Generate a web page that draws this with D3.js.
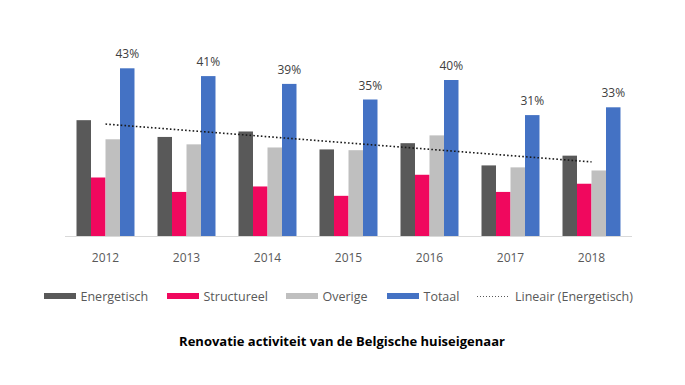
<!DOCTYPE html>
<html lang="nl">
<head>
<meta charset="utf-8">
<title>Renovatie activiteit</title>
<script src="https://d3js.org/d3.v7.min.js"></script>
<style>
  body { margin: 0; background: #fff; }
  text { font-family: "Open Sans", "Noto Sans", sans-serif; }
</style>
</head>
<body>
<div id="chart"></div>
<script>
// data (percentages)
var years       = ["2012", "2013", "2014", "2015", "2016", "2017", "2018"];
var series      = ["Energetisch", "Structureel", "Overige", "Totaal"];
var energetisch = [29.7, 25.4, 26.8, 22.2, 23.8, 18.1, 20.6];
var structureel = [15.0, 11.3, 12.7, 10.3, 15.7, 11.3, 13.4];
var overige     = [24.8, 23.5, 22.7, 22.0, 25.8, 17.6, 16.8];
var totaal      = [43, 41, 39, 35, 40, 31, 33];
var trendYears  = ["2012", "2018"];
var trendVals   = [28.7, 19.0];   // Lineair (Energetisch)
var colors      = ["#595959", "#F0085E", "#BFBFBF", "#4472C4"];

var width = 685, height = 385;
var svg = d3.select("#chart").append("svg")
  .attr("width", width).attr("height", height);

var x = d3.scaleBand().domain(years).range([65, 632])
  .paddingInner(0.284).paddingOuter(0.142);
var xs = d3.scaleBand().domain(series).range([0, x.bandwidth()]);
var y = d3.scaleLinear().domain([0, 50]).range([236, 41]);

var values = [energetisch, structureel, overige, totaal];
var rows = years.map(function (yr, i) {
  return { year: yr, vals: series.map(function (s, j) { return { key: s, v: values[j][i], c: colors[j] }; }) };
});

// axis line
svg.append("line")
  .attr("x1", 65).attr("x2", 632).attr("y1", y(0) + 0.5).attr("y2", y(0) + 0.5)
  .attr("stroke", "#d9d9d9").attr("stroke-width", 1);

var g = svg.selectAll("g.year").data(rows).enter().append("g")
  .attr("class", "year")
  .attr("transform", function (d) { return "translate(" + x(d.year) + ",0)"; });

g.selectAll("rect").data(function (d) { return d.vals; }).enter().append("rect")
  .attr("x", function (d) { return xs(d.key); })
  .attr("width", xs.bandwidth())
  .attr("y", function (d) { return y(d.v); })
  .attr("height", function (d) { return y(0) - y(d.v); })
  .attr("fill", function (d) { return d.c; });

// percentage labels above Totaal
g.append("text")
  .attr("x", xs("Totaal") + xs.bandwidth() / 2)
  .attr("y", function (d) { return y(d.vals[3].v) - 10; })
  .attr("text-anchor", "middle")
  .attr("font-size", 12)
  .attr("fill", "#404040")
  .text(function (d) { return d.vals[3].v + "%"; });

// year labels
svg.selectAll("text.yr").data(years).enter().append("text")
  .attr("class", "yr")
  .attr("x", function (d) { return x(d) + x.bandwidth() / 2; })
  .attr("y", 262)
  .attr("text-anchor", "middle")
  .attr("font-size", 12)
  .attr("fill", "#595959")
  .text(function (d) { return d; });

// trendline
var line = d3.line()
  .x(function (d) { return x(d[0]) + x.bandwidth() / 2; })
  .y(function (d) { return y(d[1]); });
svg.append("path")
  .datum(trendYears.map(function (yr, i) { return [yr, trendVals[i]]; }))
  .attr("d", line)
  .attr("fill", "none")
  .attr("stroke", "#1a1a1a")
  .attr("stroke-width", 1.6)
  .attr("stroke-dasharray", "1.6,2.2");

// legend
var legendNames = ["Energetisch", "Structureel", "Overige", "Totaal", "Lineair (Energetisch)"];
var legendX = [44, 167, 286, 387, 477];
var lg = svg.selectAll("g.lg").data(legendNames).enter().append("g")
  .attr("class", "lg")
  .attr("transform", function (d, i) { return "translate(" + legendX[i] + ",296)"; });
lg.each(function (d, i) {
  var el = d3.select(this);
  if (i < 4) {
    el.append("rect").attr("x", 0).attr("y", -3).attr("width", 32).attr("height", 6)
      .attr("fill", colors[i]);
    el.append("text").attr("x", 36.5).attr("y", 4.5).attr("font-size", 12.5)
      .attr("fill", "#595959").text(d);
  } else {
    el.append("line").attr("x1", 0).attr("x2", 33).attr("y1", 0.5).attr("y2", 0.5)
      .attr("stroke", "#595959").attr("stroke-width", 1).attr("stroke-dasharray", "1,2");
    el.append("text").attr("x", 38).attr("y", 4.5).attr("font-size", 12.5)
      .attr("fill", "#595959").text(d);
  }
});

// title
svg.append("text")
  .attr("x", 342).attr("y", 346)
  .attr("text-anchor", "middle")
  .attr("font-size", 13)
  .attr("font-weight", "bold")
  .attr("fill", "#000")
  .text("Renovatie activiteit van de Belgische huiseigenaar");
</script>
</body>
</html>
